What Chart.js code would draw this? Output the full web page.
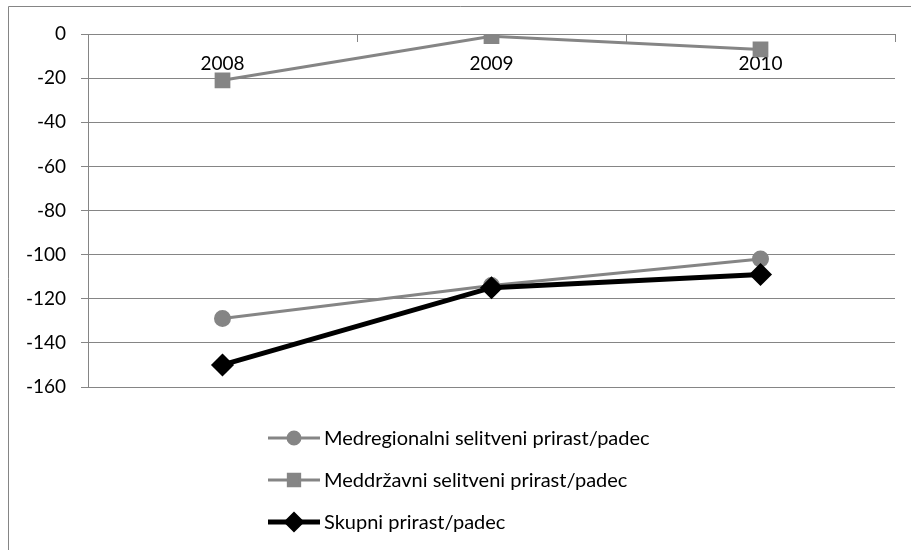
<!DOCTYPE html>
<html>
<head>
<meta charset="utf-8">
<script src="https://cdn.jsdelivr.net/npm/chart.js"></script>
<style>
  body { margin: 0; background: #fff; }
  canvas { display: block; }
</style>
</head>
<body>
<canvas id="lineChart" width="911" height="550"></canvas>
<script>
const years = ['2008', '2009', '2010'];
const medregionalni = [-129, -114, -102];
const meddrzavni = [-21, -1, -7];
const skupni = [-150, -115, -109];
const seriesNames = [
    'Medregionalni selitveni prirast/padec',
    'Meddržavni selitveni prirast/padec',
    'Skupni prirast/padec'
];
const yMin = -160, yMax = 0, yStep = 20;

const GRAY = '#858585';
const FONT = 'Lato, "Open Sans", sans-serif';

// outer frame like the spreadsheet chart box
const framePlugin = {
    id: 'frame',
    beforeDraw(chart) {
        const ctx = chart.ctx;
        ctx.save();
        ctx.fillStyle = '#fff';
        ctx.fillRect(0, 0, chart.width, chart.height);
        ctx.strokeStyle = GRAY;
        ctx.lineWidth = 1;
        ctx.beginPath();
        ctx.moveTo(8.5, chart.height + 2);
        ctx.lineTo(8.5, 6.5);
        ctx.lineTo(chart.width + 2, 6.5);
        ctx.stroke();
        ctx.restore();
    }
};

// legend stacked one item per row, under the plot
const legendRadius = [6, 8, 7];
const stackedLegend = {
    id: 'stackedLegend',
    afterDraw(chart) {
        const ctx = chart.ctx;
        chart.data.datasets.forEach((ds, i) => {
            const y = 438 + i * 42;
            ctx.save();
            ctx.strokeStyle = ds.borderColor;
            ctx.lineWidth = ds.borderWidth;
            ctx.beginPath();
            ctx.moveTo(268, y);
            ctx.lineTo(320, y);
            ctx.stroke();
            ctx.fillStyle = ds.pointBackgroundColor;
            ctx.strokeStyle = ds.pointBackgroundColor;
            Chart.helpers.drawPoint(ctx, {
                pointStyle: ds.pointStyle,
                radius: legendRadius[i],
                borderWidth: 1
            }, 294, y);
            ctx.fillStyle = '#000';
            ctx.font = '20px ' + FONT;
            ctx.textBaseline = 'middle';
            ctx.fillText(ds.label, 324, y + 1);
            ctx.restore();
        });
    }
};

const ctx = document.getElementById('lineChart').getContext('2d');
const myChart = new Chart(ctx, {
    type: 'line',
    data: {
        labels: years,
        datasets: [{
            label: seriesNames[0],
            data: medregionalni,
            borderColor: GRAY,
            borderWidth: 3,
            pointStyle: 'circle',
            pointRadius: 7,
            pointBackgroundColor: GRAY,
            pointBorderColor: GRAY,
            order: 2
        }, {
            label: seriesNames[1],
            data: meddrzavni,
            borderColor: GRAY,
            borderWidth: 3,
            pointStyle: 'rect',
            pointRadius: 9,
            pointBackgroundColor: GRAY,
            pointBorderColor: GRAY,
            order: 1
        }, {
            label: seriesNames[2],
            data: skupni,
            borderColor: '#000',
            borderWidth: 5,
            pointStyle: 'rectRot',
            pointRadius: 8,
            pointBackgroundColor: '#000',
            pointBorderColor: '#000',
            order: 0
        }]
    },
    options: {
        responsive: false,
        animation: false,
        devicePixelRatio: 1,
        layout: { padding: { left: 8, right: 16, top: 34, bottom: 163 } },
        plugins: {
            legend: { display: false },
            tooltip: { enabled: false }
        },
        scales: {
            x: {
                position: { y: 0 },
                offset: true,
                grid: {
                    drawOnChartArea: false,
                    drawTicks: true,
                    tickLength: 7,
                    color: GRAY,
                    offset: true
                },
                border: { color: GRAY, width: 1 },
                ticks: {
                    color: '#000',
                    font: { family: FONT, size: 19 },
                    padding: 11
                },
                afterFit(scale) { scale.height = 0; }
            },
            y: {
                min: yMin,
                max: yMax,
                ticks: {
                    stepSize: yStep,
                    color: '#000',
                    font: { family: FONT, size: 19 },
                    padding: 15
                },
                grid: { color: GRAY, tickLength: 7 },
                border: { color: GRAY, width: 1 },
                afterFit(scale) { scale.width = 80; }
            }
        }
    },
    plugins: [framePlugin, stackedLegend]
});
</script>
</body>
</html>
